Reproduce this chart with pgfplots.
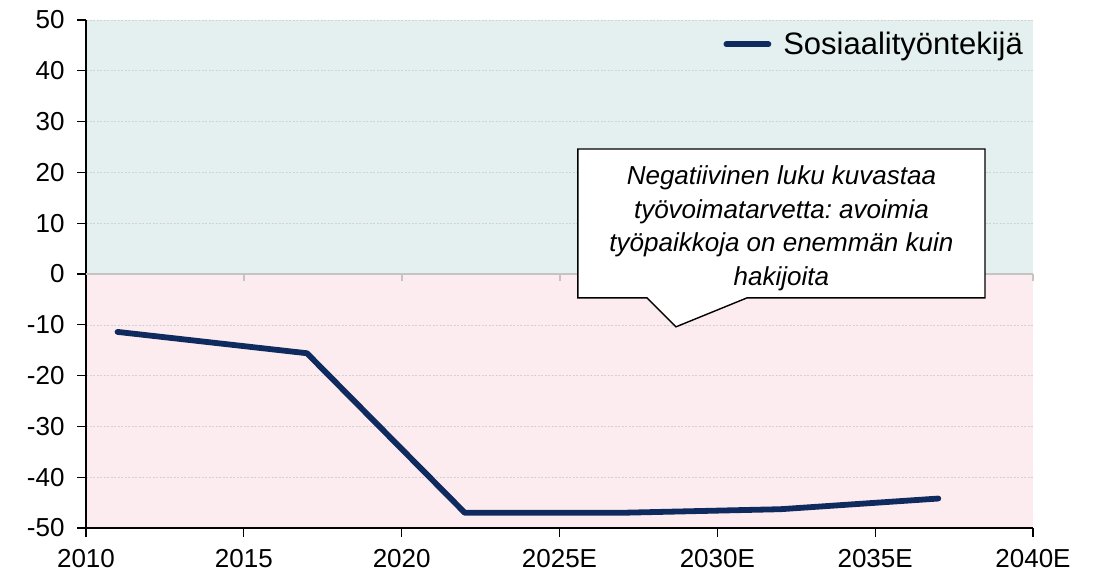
\documentclass[border=0pt]{standalone}
\usepackage{fontspec}
\setmainfont{Liberation Sans}
\usepackage{pgfplots}
\pgfplotsset{compat=1.18}
\definecolor{bgteal}{HTML}{E4F0F0}
\definecolor{bgpink}{HTML}{FDECEF}
\definecolor{navyline}{HTML}{0F2A5E}
\definecolor{zerogray}{HTML}{C4C4C4}
\frenchspacing
\begin{document}
\begin{tikzpicture}
\begin{axis}[
  at={(0pt,0pt)}, anchor=south west,
  set layers,
  width=947pt, height=508pt, scale only axis,
  xmin=2010, xmax=2040, ymin=-50, ymax=50,
  xtick={2010,2015,2020,2025,2030,2035,2040},
  xticklabels={2010,2015,2020,2025E,2030E,2035E,2040E},
  ytick={-50,-40,-30,-20,-10,0,10,20,30,40,50},
  yticklabels={-50,-40,-30,-20,-10,0,10,20,30,40,50},
  axis x line*=bottom, axis y line*=left,
  tick align=outside, major tick length=9pt,
  tick style={black, line width=1.3pt},
  axis line style={black, line width=1.3pt},
  ymajorgrids, grid style={gray!35, dash pattern=on 2pt off 1.5pt, line width=0.6pt},
  ticklabel style={font=\fontsize{26}{30}\selectfont},
  yticklabel style={xshift=-9pt},
  xticklabel style={yshift=-9pt},
  legend style={at={(rel axis cs:0.9916,0.98)}, anchor=north east, draw=none, fill=none,
    font=\fontsize{31}{34}\selectfont, inner sep=0pt},
  legend image code/.code={\draw[#1] (0pt,0pt) -- (42pt,0pt); \path (52pt,0pt);},
  clip=false,
]
\addplot[fill=bgteal, draw=none, forget plot, on layer=axis background] coordinates {(2010,0) (2040,0) (2040,50) (2010,50)} -- cycle;
\addplot[fill=bgpink, draw=none, forget plot, on layer=axis background] coordinates {(2010,-50) (2040,-50) (2040,0) (2010,0)} -- cycle;
\addplot[zerogray, line width=2.8pt, forget plot] coordinates {(2010,0) (2040,0)};
\draw[zerogray, line width=2pt] (axis cs:2015,0) -- ++(0pt,-7pt);
\draw[zerogray, line width=2pt] (axis cs:2020,0) -- ++(0pt,-7pt);
\draw[zerogray, line width=2pt] (axis cs:2025,0) -- ++(0pt,-7pt);
\draw[zerogray, line width=2pt] (axis cs:2030,0) -- ++(0pt,-7pt);
\draw[zerogray, line width=2pt] (axis cs:2035,0) -- ++(0pt,-7pt);
\draw[zerogray, line width=2pt] (axis cs:2040,0) -- ++(0pt,-7pt);
\addplot[navyline, line width=5.8pt, line cap=round, line join=round] coordinates {
  (2011,-11.4) (2017,-15.6) (2022,-47) (2027,-47) (2032,-46.3) (2037,-44.2)};
\addlegendentry{Sosiaalityöntekijä}
\draw[black, line width=1.4pt, fill=white] (axis cs:2025.58,24.6) -- (axis cs:2038.48,24.6) -- (axis cs:2038.48,-4.7) -- (axis cs:2030.94,-4.7) -- (axis cs:2028.69,-10.4) -- (axis cs:2027.77,-4.7) -- (axis cs:2025.58,-4.7) -- cycle;
\node[align=center, font=\itshape\fontsize{26}{33.5}\selectfont] at (axis cs:2032.03,8.96) {Negatiivinen luku kuvastaa\\työvoimatarvetta: avoimia\\työpaikkoja on enemmän kuin\\hakijoita};
\end{axis}
\path (current axis.south west) ++(-86pt,-48pt) rectangle ++(1097pt,576pt);
\end{tikzpicture}
\end{document}
